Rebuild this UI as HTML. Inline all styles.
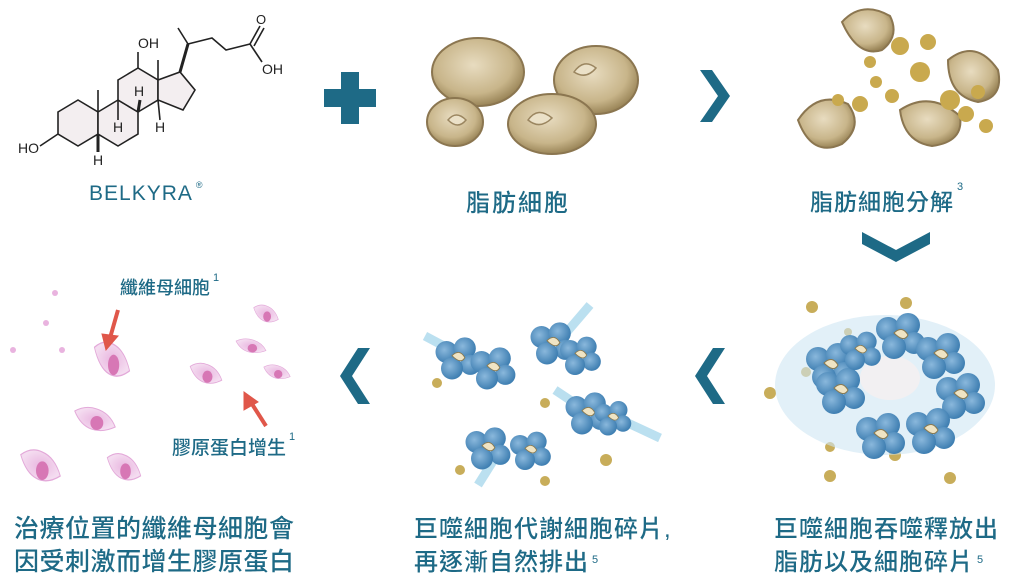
<!DOCTYPE html>
<html><head><meta charset="utf-8">
<style>
html,body{margin:0;padding:0;background:#fff;}
body{width:1024px;height:576px;overflow:hidden;position:relative;font-family:"Liberation Sans","Noto Sans CJK TC",sans-serif;color:#1e6a86;}
.t{position:absolute;white-space:nowrap;font-family:"Liberation Sans","Noto Sans CJK TC",sans-serif;color:#1e6a86;font-weight:500;}
sup{font-size:11px;vertical-align:top;position:relative;top:-2px;margin-left:3px;}
</style></head><body>
<svg width="1024" height="576" style="position:absolute;left:0;top:0">
<defs>
<radialGradient id="fat" cx="45%" cy="40%" r="60%"><stop offset="0" stop-color="#e8dcc0"/><stop offset="0.7" stop-color="#c8b58a"/><stop offset="1" stop-color="#9a8558"/></radialGradient>
<radialGradient id="blob" cx="40%" cy="40%" r="60%"><stop offset="0" stop-color="#8ab8dc"/><stop offset="1" stop-color="#3f7fb2"/></radialGradient>
<radialGradient id="pink" cx="50%" cy="50%" r="50%"><stop offset="0" stop-color="#e9b7e0"/><stop offset="1" stop-color="#f4dcf0"/></radialGradient>
<symbol id="mac" viewBox="-30 -30 60 60" overflow="visible">
<circle cx="-12" cy="-6" r="12" fill="url(#blob)"/><circle cx="8" cy="-10" r="12" fill="url(#blob)"/>
<circle cx="14" cy="8" r="11" fill="url(#blob)"/><circle cx="-6" cy="12" r="12" fill="url(#blob)"/>
<path d="M-6 -2 q8 -8 14 2 q-4 8 -14 -2z" fill="#efe4c4" stroke="#8a7a50" stroke-width="1"/>
</symbol>
<symbol id="fib" viewBox="-25 -15 50 30" overflow="visible" preserveAspectRatio="none">
<path d="M-22 -10 q12 -6 24 -2 q14 4 20 18 q-14 6 -26 2 q-12 -4 -18 -18z" fill="url(#pink)" stroke="#e3a9d9" stroke-width="1"/>
<ellipse cx="2" cy="2" rx="7" ry="7" fill="#d777b5"/>
</symbol>
</defs>

<!-- molecule -->
<g stroke="#222" stroke-width="1.6" fill="#f3eef0">
<polygon points="58,112 78,100 98,112 98,134 78,146 58,134"/>
<polygon points="98,112 118,100 138,112 138,134 118,146 98,134"/>
<polygon points="118,80 138,68 158,80 158,100 138,112 118,100"/>
<polygon points="158,80 180,72 195,90 183,110 158,100"/>
</g>
<g stroke="#222" stroke-width="1.6" fill="none">
<line x1="98" y1="112" x2="98" y2="90"/><line x1="158" y1="80" x2="158" y2="60"/>
<line x1="180" y1="72" x2="188" y2="44" stroke-width="3"/>
<line x1="188" y1="44" x2="178" y2="28"/><polyline points="188,44 212,38 226,50 250,44"/>
<line x1="250" y1="44" x2="260" y2="26"/><line x1="254" y1="46" x2="264" y2="28"/>
<line x1="250" y1="44" x2="262" y2="62"/><line x1="58" y1="134" x2="40" y2="146"/>
<line x1="138" y1="68" x2="138" y2="52"/>
<line x1="98" y1="134" x2="98" y2="152" stroke-width="3"/>
<line x1="118" y1="100" x2="118" y2="120"/><line x1="138" y1="112" x2="140" y2="100" stroke-width="3"/>
<line x1="158" y1="100" x2="160" y2="120"/>
</g>
<g font-family="Liberation Sans,sans-serif" font-size="14" fill="#222">
<text x="138" y="48">OH</text><text x="262" y="74">OH</text><text x="256" y="24" font-size="13">O</text>
<text x="18" y="153">HO</text><text x="93" y="165">H</text><text x="113" y="132">H</text>
<text x="134" y="96">H</text><text x="155" y="132">H</text>
</g>

<!-- plus -->
<rect x="341" y="72" width="18" height="52" fill="#1e6a86"/><rect x="324" y="89" width="52" height="18" fill="#1e6a86"/>

<!-- fat cells -->
<g stroke="#8b7650" stroke-width="2">
<ellipse cx="478" cy="72" rx="46" ry="34" fill="url(#fat)"/>
<ellipse cx="455" cy="122" rx="28" ry="24" fill="url(#fat)"/>
<ellipse cx="596" cy="80" rx="42" ry="34" fill="url(#fat)"/>
<ellipse cx="552" cy="124" rx="44" ry="30" fill="url(#fat)"/>
</g>
<g fill="#ebe1c8" stroke="#9b8660" stroke-width="1.5">
<path d="M574 72 q10 -14 22 -4 q-10 12 -22 4z"/><path d="M528 120 q10 -14 24 -2 q-12 12 -24 2z"/><path d="M448 120 q8 -10 18 0 q-8 10 -18 0z"/>
</g>

<!-- chevrons -->
<polygon points="700,70 712,70 730,96 712,122 700,122 718,96" fill="#1e6a86"/>
<polygon points="862,232 862,244 896,262 930,244 930,232 896,250" fill="#1e6a86"/>
<polygon points="725,348 713,348 695,376 713,404 725,404 707,376" fill="#1e6a86"/>
<polygon points="370,348 358,348 340,376 358,404 370,404 352,376" fill="#1e6a86"/>

<!-- broken fat cells -->
<g stroke="#8b7650" stroke-width="2" fill="url(#fat)">
<path d="M842 22 q20 -22 48 -6 q10 20 -8 34 q-24 8 -40 -28z"/>
<path d="M948 60 q28 -22 50 10 q6 28 -20 32 q-30 -6 -30 -42z"/>
<path d="M798 120 q20 -30 50 -16 q16 22 -6 40 q-30 14 -44 -24z"/>
<path d="M900 110 q30 -20 60 6 q4 26 -28 30 q-28 -4 -32 -36z"/>
</g>
<g fill="#c9a94e">
<circle cx="900" cy="46" r="9"/><circle cx="928" cy="42" r="8"/><circle cx="870" cy="62" r="6"/><circle cx="920" cy="72" r="10"/>
<circle cx="860" cy="104" r="8"/><circle cx="876" cy="82" r="6"/><circle cx="892" cy="96" r="7"/><circle cx="950" cy="100" r="10"/>
<circle cx="978" cy="92" r="7"/><circle cx="966" cy="114" r="8"/><circle cx="838" cy="100" r="6"/><circle cx="986" cy="126" r="7"/>
</g>

<!-- macrophage ring -->
<g fill="#c8ad5a">
<circle cx="812" cy="307" r="6"/><circle cx="906" cy="303" r="6"/><circle cx="848" cy="332" r="4"/><circle cx="770" cy="393" r="6"/>
<circle cx="830" cy="447" r="5"/><circle cx="895" cy="455" r="6"/><circle cx="830" cy="476" r="6"/><circle cx="950" cy="478" r="6"/><circle cx="806" cy="372" r="5"/>
</g>
<ellipse cx="885" cy="385" rx="110" ry="70" fill="#cfe6f3" opacity="0.6"/>
<ellipse cx="890" cy="378" rx="30" ry="22" fill="#f2f0f2"/>
<use href="#mac" x="800" y="335" width="60" height="60"/>
<use href="#mac" x="810" y="360" width="60" height="60"/>
<use href="#mac" x="870" y="305" width="60" height="60"/>
<use href="#mac" x="910" y="325" width="60" height="60"/>
<use href="#mac" x="930" y="365" width="60" height="60"/>
<use href="#mac" x="850" y="405" width="60" height="60"/>
<use href="#mac" x="900" y="400" width="60" height="60"/>
<use href="#mac" x="835" y="325" width="50" height="50"/>

<!-- middle macrophages -->
<g stroke="#aad8ec" stroke-width="9" opacity="0.8" fill="none">
<line x1="470" y1="360" x2="425" y2="336"/><line x1="560" y1="340" x2="590" y2="305"/>
<line x1="600" y1="410" x2="660" y2="438"/><line x1="500" y1="450" x2="478" y2="485"/><line x1="600" y1="420" x2="555" y2="390"/>
</g>
<use href="#mac" x="430" y="330" width="55" height="55"/>
<use href="#mac" x="465" y="340" width="55" height="55"/>
<use href="#mac" x="525" y="315" width="55" height="55"/>
<use href="#mac" x="555" y="330" width="50" height="50"/>
<use href="#mac" x="560" y="385" width="55" height="55"/>
<use href="#mac" x="590" y="395" width="45" height="45"/>
<use href="#mac" x="460" y="420" width="55" height="55"/>
<use href="#mac" x="505" y="425" width="50" height="50"/>
<g fill="#c8ad5a">
<circle cx="437" cy="383" r="5"/><circle cx="545" cy="403" r="5"/><circle cx="606" cy="460" r="6"/><circle cx="460" cy="470" r="5"/><circle cx="545" cy="481" r="5"/>
</g>

<!-- fibroblasts -->
<use href="#fib" x="92" y="340" width="40" height="44"/>
<use href="#fib" x="72" y="406" width="46" height="30"/>
<use href="#fib" x="18" y="448" width="45" height="40"/>
<use href="#fib" x="105" y="452" width="38" height="34"/>
<use href="#fib" x="188" y="362" width="36" height="26"/>
<use href="#fib" x="234" y="338" width="34" height="18"/>
<use href="#fib" x="252" y="304" width="28" height="22"/>
<use href="#fib" x="262" y="364" width="30" height="18"/>
<g fill="#e9b3df"><circle cx="55" cy="293" r="3"/><circle cx="46" cy="323" r="3"/><circle cx="13" cy="350" r="3"/><circle cx="62" cy="350" r="3"/></g>
<g fill="#e0574a" stroke="#e0574a">
<line x1="118" y1="310" x2="110" y2="338" stroke-width="4"/><polygon points="102,334 118,336 106,350"/>
<line x1="266" y1="426" x2="252" y2="404" stroke-width="4"/><polygon points="244,410 258,402 244,392"/>
</g>
</svg>

<div class="t" style="left:89px;top:182px;font-size:21px;letter-spacing:1px;">BELKYRA<sup style="font-size:9px">®</sup></div>
<div class="t" style="left:466px;top:183px;font-size:24px;letter-spacing:2px;">脂肪細胞</div>
<div class="t" style="left:810px;top:183px;font-size:23px;letter-spacing:1px;">脂肪細胞分解<sup>3</sup></div>
<div class="t" style="left:120px;top:274px;font-size:18px;">纖維母細胞<sup>1</sup></div>
<div class="t" style="left:172px;top:433px;font-size:19px;">膠原蛋白增生<sup>1</sup></div>
<div class="t" style="left:14px;top:513px;font-size:25px;line-height:33px;letter-spacing:0.5px;">治療位置的纖維母細胞會<br>因受刺激而增生膠原蛋白</div>
<div class="t" style="left:414px;top:513px;font-size:24px;line-height:33px;letter-spacing:1px;">巨噬細胞代謝細胞碎片,<br>再逐漸自然排出<sup>5</sup></div>
<div class="t" style="left:774px;top:513px;font-size:24px;line-height:33px;letter-spacing:1px;">巨噬細胞吞噬釋放出<br>脂肪以及細胞碎片<sup>5</sup></div>
</body></html>
